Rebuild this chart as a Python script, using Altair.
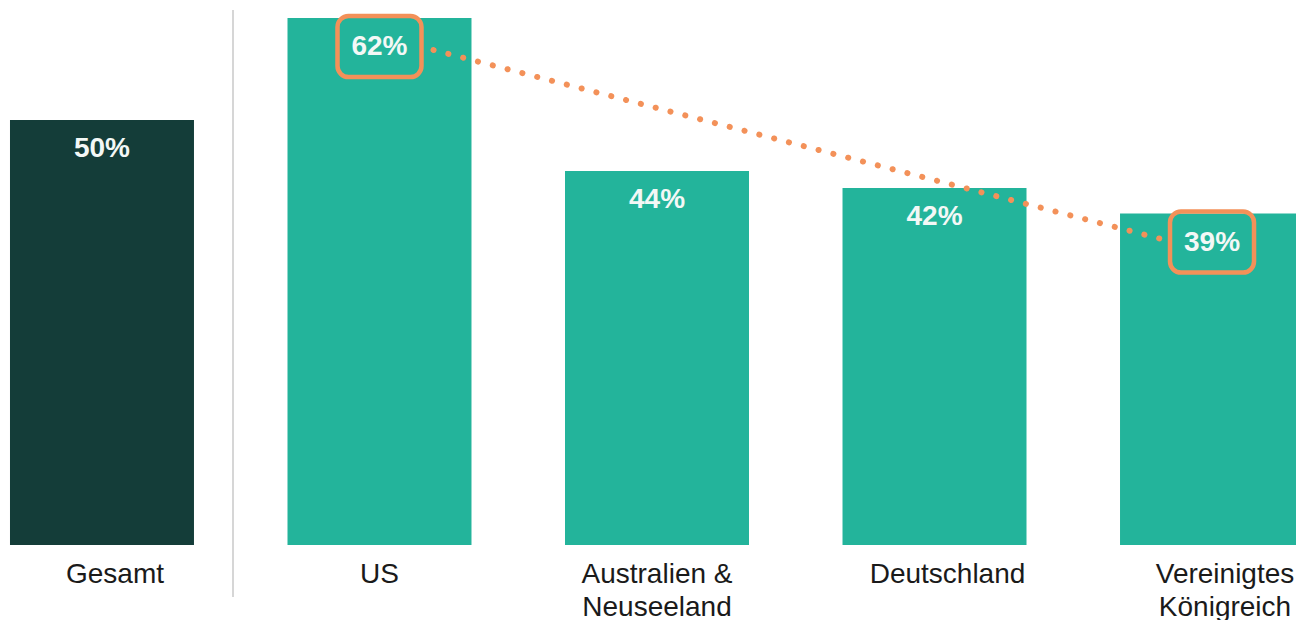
import altair as alt
import pandas as pd

categories = ["Gesamt", "US", "Australien &\nNeuseeland", "Deutschland", "Vereinigtes\nKönigreich"]
values = [50, 62, 44, 42, 39]
value_labels = ["50%", "62%", "44%", "42%", "39%"]
groups = ["gesamt", "land", "land", "land", "land"]
highlighted = [False, True, False, False, True]

TEAL = "#23b49b"
DARK = "#143d39"
ORANGE = "#f39159"

df = pd.DataFrame({
    "cat": categories,
    "value": values,
    "label": value_labels,
    "group": groups,
    "hl": highlighted,
})
hl_df = df[df["hl"]].reset_index(drop=True)
line_df = pd.DataFrame({
    "c1": [hl_df.loc[0, "cat"]], "v1": [hl_df.loc[0, "value"]],
    "c2": [hl_df.loc[1, "cat"]], "v2": [hl_df.loc[1, "value"]],
})

xscale = alt.Scale(domain=categories, range=[0, 1314], paddingInner=0.337, paddingOuter=0.036)
yscale = alt.Scale(domain=[0, 64.12], nice=False, zero=True)

label_axis = alt.Axis(
    title=None, domain=False, ticks=False, grid=False, labelAngle=0,
    labelFont="Liberation Sans", labelFontSize=28, labelColor="#1a1a1a",
    labelLineHeight=33, labelBaseline="alphabetic", labelPadding=37,
    labelLimit=300, labelOverlap=False,
    labelExpr="split(datum.label, '\\n')",
    labelOffset={"condition": {"test": "datum.value == 'US' || datum.value == 'Australien &\\nNeuseeland'", "value": 0}, "value": 13},
)

bars = alt.Chart(df).mark_bar(clip=True).encode(
    x=alt.X("cat:N", scale=xscale, sort=categories, axis=label_axis),
    y=alt.Y("value:Q", scale=yscale, axis=None),
    color=alt.Color("group:N", scale=alt.Scale(domain=["gesamt", "land"], range=[DARK, TEAL]), legend=None),
)

separator = alt.Chart(pd.DataFrame({"a": [0]})).mark_rule(color="#c9c9c9", strokeWidth=1.5).encode(
    x=alt.value(233), y=alt.value(10), y2=alt.value(597)
)

dots = alt.Chart(line_df).mark_rule(
    color=ORANGE, strokeWidth=6, strokeCap="round", strokeDash=[0.1, 15.2],
    xOffset=54, yOffset=32, x2Offset=-43, y2Offset=27.5,
).encode(
    x=alt.X("c1:N", scale=xscale, sort=categories, axis=label_axis),
    x2="c2",
    y=alt.Y("v1:Q", scale=yscale, axis=None),
    y2="v2",
)

boxes = alt.Chart(hl_df).mark_bar(
    width=84, fill="transparent", stroke=ORANGE, strokeWidth=4.5, cornerRadius=11,
    yOffset=-2, y2Offset=59,
).encode(
    x=alt.X("cat:N", scale=xscale, sort=categories, axis=label_axis),
    y=alt.Y("value:Q", scale=yscale, axis=None),
    y2="value",
)

texts = alt.Chart(df).mark_text(
    font="Liberation Sans", fontSize=28, fontWeight="bold", color="#f3f8f6",
    baseline="alphabetic", align="center", dy=37,
).encode(
    x=alt.X("cat:N", scale=xscale, sort=categories, axis=label_axis),
    y=alt.Y("value:Q", scale=yscale, axis=None),
    text="label:N",
)

chart = alt.layer(bars, separator, dots, boxes, texts).properties(
    width=1296, height=545,
    padding={"left": 0, "top": 0, "right": 0, "bottom": 75},
    autosize=alt.AutoSizeParams(type="none"),
    background="white",
).configure_view(stroke=None)

chart.save("out.html", embed_options={"renderer": "svg", "actions": False})
